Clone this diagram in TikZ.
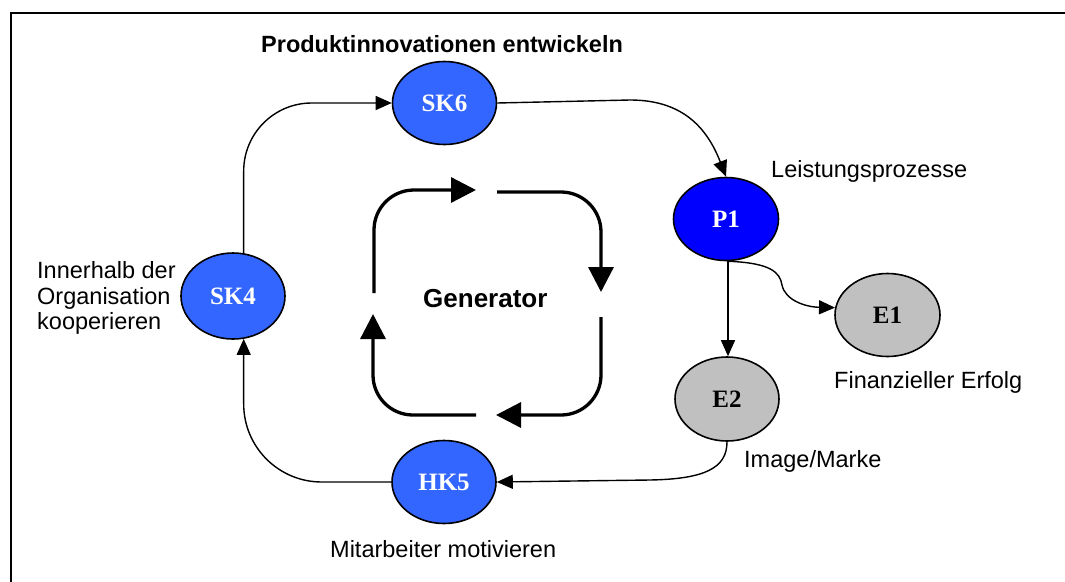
\documentclass[tikz,border=0pt]{standalone}
\usepackage{fontspec}
\setmainfont{Liberation Serif}
\newfontfamily\arialf{Liberation Sans}
\usetikzlibrary{arrows.meta,shapes.geometric}
\definecolor{skblue}{RGB}{51,102,255}
\definecolor{pblue}{RGB}{0,0,255}
\definecolor{egray}{RGB}{192,192,192}
\begin{document}
\begin{tikzpicture}[x=1pt,y=-1pt,
  ell/.style={ellipse, draw=black, line width=1.6pt, inner sep=0pt,
    minimum width=104pt, minimum height=83pt,
    font=\fontsize{25}{30}\selectfont\bfseries},
  skn/.style={ell, fill=skblue, text=white},
  pn/.style={ell, fill=pblue, text=white},
  en/.style={ell, fill=egray, text=black},
  conn/.style={line width=1.4pt, -{Triangle[length=16pt,width=14pt]}},
  gen/.style={line width=3.3pt, rounded corners=40pt, -{Triangle[length=25pt,width=25pt]}},
  lbl/.style={inner sep=0pt, font=\arialf\fontsize{23.5}{25.5}\selectfont},
  blbl/.style={lbl, font=\arialf\bfseries\fontsize{23.5}{25.5}\selectfont}
]
\useasboundingbox (0,0) rectangle (1065,581);
% frame
\draw[line width=2.3pt] (11,590) -- (11,12.8) -- (1075,12.8);

% nodes
\node[skn] (SK6) at (444.5,103) {SK6};
\node[pn, minimum width=105pt] (P1) at (726,219) {P1};
\node[skn, minimum height=86pt] (SK4) at (233,296) {SK4};
\node[skn] (HK5) at (444,482) {HK5};
\node[en, minimum width=105pt] (E1) at (887.5,315) {E1};
\node[en, minimum height=84pt] (E2) at (727,399) {E2};

% labels
\node[blbl, anchor=base west] (lSK6) at (261,52) {Produktinnovationen entwickeln};
\node[lbl, anchor=base west] (lP1) at (771,177) {Leistungsprozesse};
\node[lbl, anchor=north west, align=left] (lSK4) at (37,261.5) {Innerhalb der\\Organisation\\kooperieren};
\node[lbl, anchor=base west] (lE1) at (834,388) {Finanzieller Erfolg};
\node[lbl, anchor=base west] (lE2) at (744,467) {Image/Marke};
\node[lbl, anchor=base west] (lHK5) at (330,557) {Mitarbeiter motivieren};
\node[blbl, anchor=base west, font=\arialf\bfseries\fontsize{26}{30}\selectfont] (gen) at (423,307) {Generator};

% connectors
\draw[conn, rounded corners=68pt] (SK4.76) |- (SK6.west);
\draw[conn] (SK6.east) -- (630,100) .. controls (680,100) and (706,125) .. (P1.north);
\draw[conn] ([xshift=2pt]P1.south) -- ([xshift=1pt]E2.north);
\draw[conn] ([xshift=3pt]P1.south) .. controls (770,263) and (780,272) .. (782,285)
  .. controls (785,300) and (805,307) .. (E1.172);
\draw[conn] (E2.south) .. controls (727,468) and (705,479) .. (650,480) -- (HK5.east);
\draw[conn, rounded corners=78pt] (HK5.west) -| (SK4.-76);

% generator loop
\coordinate (g1s) at (374,293);
\coordinate (g1e) at (476,190);
\coordinate (g2s) at (497,192);
\coordinate (g2e) at (601,292);
\coordinate (g3s) at (601,317);
\coordinate (g3e) at (496,415);
\coordinate (g4s) at (476,415);
\coordinate (g4e) at (373,314);
\draw[gen] (g1s) |- (g1e);
\draw[gen] (g2s) -| (g2e);
\draw[gen] (g3s) |- (g3e);
\draw[gen] (g4s) -| (g4e);
\end{tikzpicture}
\end{document}
